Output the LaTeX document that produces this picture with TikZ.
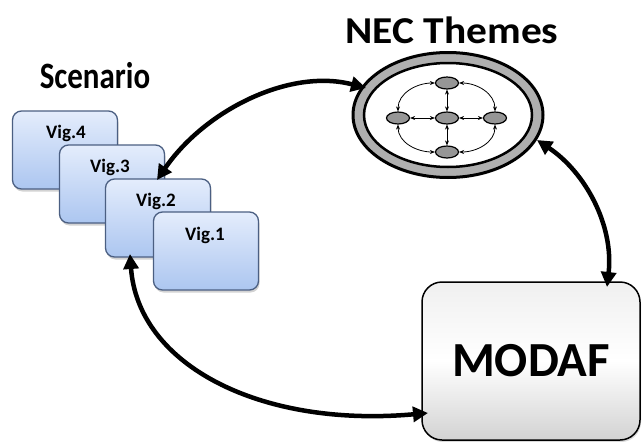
\documentclass[tikz,border=0pt]{standalone}
\usepackage{fontspec}
\usepackage{graphicx}
\setmainfont{Carlito}
\usetikzlibrary{shapes.geometric,arrows.meta,shadows,calc}
\definecolor{vigtop}{RGB}{228,237,252}
\definecolor{vigbot}{RGB}{172,198,240}
\definecolor{vigline}{RGB}{75,95,130}
\definecolor{ringgray}{RGB}{175,175,175}
\definecolor{nodegray}{RGB}{150,150,150}
\tikzset{
  vig/.style={rectangle, rounded corners=9pt, draw=vigline, line width=1.3pt,
    top color=vigtop, bottom color=vigbot, minimum width=105pt, minimum height=78pt,
    drop shadow={shadow xshift=1pt, shadow yshift=-2.5pt, opacity=0.35}},
  viglabel/.style={font=\bfseries\fontsize{19}{21}\selectfont},
  title/.style={font=\bfseries\fontsize{31}{35}\selectfont},
  bigarrow/.style={line width=4.5pt, {Triangle[length=15pt,width=15pt]}-{Triangle[length=15pt,width=15pt]}},
  gnode/.style={ellipse, draw, line width=1.2pt, fill=nodegray, minimum width=23pt, minimum height=12pt, inner sep=0pt},
  garrow/.style={line width=0.8pt, {Stealth[length=5pt,width=4pt]}-{Stealth[length=5pt,width=4pt]}}
}
\begin{document}
\begin{tikzpicture}[x=1pt,y=-1pt]
\useasboundingbox (0,0) rectangle (643,442);
% titles
\node[title] (scen) at (95,76) {\scalebox{1}[1.2]{Scenario}};
\node[title, font=\bfseries\fontsize{38}{42}\selectfont] (nect) at (452,30) {\scalebox{1.09}[1]{NEC Themes}};
% vignettes
\node[vig] (v4) at (65,150) {};
\node[viglabel] (l4) at (66,133) {Vig.4};
\node[vig] (v3) at (112,184) {};
\node[viglabel] (l3) at (110,167) {Vig.3};
\node[vig] (v2) at (158,218) {};
\node[viglabel] (l2) at (156,201) {Vig.2};
\node[vig] (v1) at (206,251) {};
\node[viglabel] (l1) at (205,235) {Vig.1};
% NEC ring
\node[ellipse, draw, line width=3pt, fill=ringgray, minimum width=190pt, minimum height=125pt] (nec) at (448,115) {};
\node[ellipse, draw, line width=2.5pt, fill=white, minimum width=168pt, minimum height=104pt] (necin) at (448,115) {};
% inner graph
\node[gnode] (gc) at (447,118) {};
\node[gnode] (gt) at (447,83) {};
\node[gnode] (gb) at (447,152) {};
\node[gnode] (gl) at (398,118) {};
\node[gnode] (gr) at (495,118) {};
\draw[garrow] (gc) -- (gt);
\draw[garrow] (gc) -- (gb);
\draw[garrow] (gc) -- (gl);
\draw[garrow] (gc) -- (gr);
\draw[garrow] (gt.west) to[out=180,in=90] (gl.north);
\draw[garrow] (gt.east) to[out=0,in=90] (gr.north);
\draw[garrow] (gb.west) to[out=180,in=-90] (gl.south);
\draw[garrow] (gb.east) to[out=0,in=-90] (gr.south);
% MODAF
\node[rectangle, rounded corners=20pt, draw=black, line width=1.5pt,
  top color=gray!12, bottom color=gray!35, middle color=white,
  minimum width=218pt, minimum height=158pt,
  drop shadow={shadow xshift=1pt, shadow yshift=-2pt, opacity=0.3},
  font=\bfseries\fontsize{49}{52}\selectfont] (modaf) at (531,361) {MODAF};
% connectors
\coordinate (a1) at (366,88);
\coordinate (a2) at (157,180);
\coordinate (b1) at (537,140);
\coordinate (b2) at (607,287);
\coordinate (c1) at (130,254);
\coordinate (c2) at (428,413);
\draw[bigarrow] (a1) .. controls (290,68) and (205,110) .. (a2);
\draw[bigarrow] (b1) .. controls (585,172) and (614,225) .. (b2);
\draw[bigarrow] (c1) .. controls (138,365) and (260,428) .. (c2);
\end{tikzpicture}
\end{document}
